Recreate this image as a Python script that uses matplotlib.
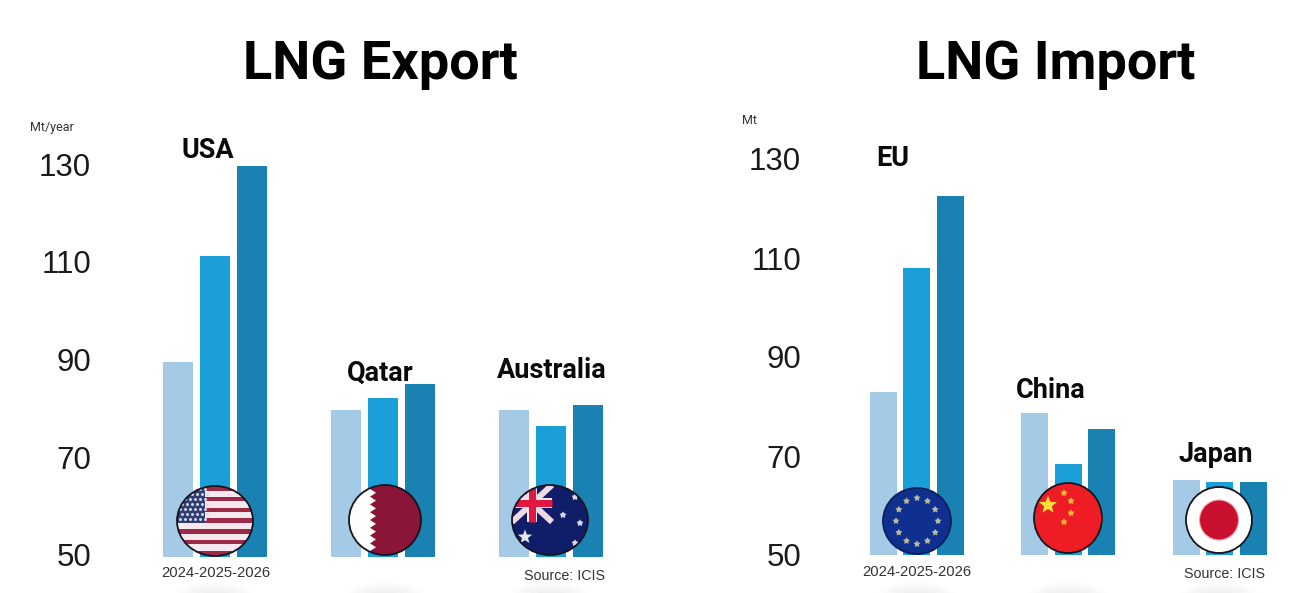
import numpy as np
import matplotlib
matplotlib.use('Agg')
import matplotlib.pyplot as plt
from matplotlib.patches import Ellipse, Rectangle, Polygon
from matplotlib.transforms import ScaledTranslation

W, H = 1290, 593

years = ['2024', '2025', '2026']
yticks = [50, 70, 90, 110, 130]

export_names = ['USA', 'Qatar', 'Australia']
export_2024 = [90, 80, 80]
export_2025 = [111.5, 82.5, 76.8]
export_2026 = [130, 85.4, 81]

import_names = ['EU', 'China', 'Japan']
import_2024 = [83, 78.7, 65.2]
import_2025 = [108, 68.4, 64.8]
import_2026 = [122.5, 75.4, 64.8]

colors = ['#A5CAE6', '#1B9FD9', '#1A82B3']
TITLE_FONT = 'Roboto'
BODY_FONT = 'Liberation Sans'

fig = plt.figure(figsize=(W / 100, H / 100), dpi=100, facecolor='white')


def make_axes(left, right, top, bottom):
    return fig.add_axes([left / W, 1 - bottom / H, (right - left) / W, (bottom - top) / H])


def draw_bars(ax, series, step, width, names, label_shift):
    x = np.arange(len(names))
    for i, vals in enumerate(series):
        ax.bar(x + (i - 1) * step, np.array(vals) - 50, width, bottom=50, color=colors[i], clip_on=False)
    ax.set_ylim(50, 130)
    ax.set_yticks(yticks)
    ax.tick_params(axis='y', length=0, pad=6.5, labelsize=22.5, labelcolor='#1a1a1a')
    ax.set_xticks([])
    # label_shift in px, the digits are not quite level with the bars in the reference
    up = ScaledTranslation(0, label_shift / 100, fig.dpi_scale_trans)
    for label in ax.get_yticklabels():
        label.set_fontfamily(BODY_FONT)
        label.set_transform(label.get_transform() + up)
    for s in ax.spines.values():
        s.set_visible(False)
    ax.patch.set_alpha(0)


# one group = 168 px on the left, 151.5 px on the right
ax1 = make_axes(100, 100 + 168 * 3, 166, 557)
ax1.set_xlim(-115 / 168, 3 - 115 / 168)
draw_bars(ax1, [export_2024, export_2025, export_2026], 37 / 168, 29.5 / 168, export_names, 2)

ax2 = make_axes(810, 810 + 151.5 * 3, 159, 555)
ax2.set_xlim(-106.5 / 151.5, 3 - 106.5 / 151.5)
draw_bars(ax2, [import_2024, import_2025, import_2026], 33.5 / 151.5, 27 / 151.5, import_names, 0)

# overlay in pixel coordinates for the text and the round flags
ov = fig.add_axes([0, 0, 1, 1], zorder=5)
ov.set_xlim(0, W)
ov.set_ylim(H, 0)
ov.axis('off')


def flag_base(cx, cy, rx, ry, color):
    e = Ellipse((cx, cy), 2 * rx, 2 * ry, fc=color, ec='none', zorder=6)
    ov.add_patch(e)
    return e


def outline(cx, cy, rx, ry, color='#14141e'):
    ov.add_patch(Ellipse((cx, cy), 2 * rx, 2 * ry, fc='none', ec=color, lw=1.3, zorder=9))


def star_pts(cx, cy, r, inner=0.42, n=5):
    a = -np.pi / 2 + np.arange(2 * n) * np.pi / n
    rad = np.where(np.arange(2 * n) % 2 == 0, r, r * inner)
    return np.column_stack([cx + rad * np.cos(a), cy + rad * np.sin(a)])


def clipped(patch, clip, z=7):
    patch.set_zorder(z)
    ov.add_patch(patch)
    patch.set_clip_path(clip)


def flag_usa(cx, cy, rx, ry):
    clip = flag_base(cx, cy, rx, ry, '#F6E8EE')
    top = cy - ry
    h = 2 * ry / 13
    for i in range(0, 13, 2):
        clipped(Rectangle((cx - rx, top + i * h), 2 * rx, h * 0.85, fc='#9C2A46', ec='none'), clip)
    clipped(Rectangle((cx - rx, top), 28, 37, fc='#2E3F72', ec='none'), clip)
    for r in range(7):
        for c in range(6):
            px = cx - rx + 3 + c * 5 + (r % 2) * 2
            py = top + 3 + r * 5
            s = ov.scatter([px], [py], s=4.5, c='#D8D8EA', marker='o', linewidths=0, zorder=8)
            s.set_clip_path(clip)
    outline(cx, cy, rx, ry)


def flag_qatar(cx, cy, rx, ry):
    clip = flag_base(cx, cy, rx, ry, 'white')
    n = 9
    ys = np.linspace(cy - ry, cy + ry, 2 * n + 1)
    xs = [cx - 9 + (6 if i % 2 else 0) * -1 for i in range(2 * n + 1)]
    pts = list(zip(xs, ys)) + [(cx + rx, cy + ry), (cx + rx, cy - ry)]
    clipped(Polygon(pts, closed=True, fc='#8A1538', ec='none'), clip)
    outline(cx, cy, rx, ry)


def flag_australia(cx, cy, rx, ry):
    clip = flag_base(cx, cy, rx, ry, '#101E6A')
    x0, x1, y0, y1 = cx - rx, cx + 2, cy - ry, cy + 2
    xm, ym = (x0 + x1) / 2, (y0 + y1) / 2 - 1
    for (a, b), c, lw in [(((x0, y0), (x1, y1)), '#F0D8E4', 6), (((x0, y1), (x1, y0)), '#F0D8E4', 6),
                          (((x0, ym), (x1, ym)), '#F4E6EC', 10), (((xm, y0), (xm, y1)), '#F4E6EC', 10),
                          (((x0, ym), (x1, ym)), '#E0173F', 7), (((xm, y0), (xm, y1)), '#E0173F', 7)]:
        line, = ov.plot([a[0], b[0]], [a[1], b[1]], color=c, lw=lw * 0.72, zorder=7, solid_capstyle='butt')
        line.set_clip_path(clip)
    clipped(Polygon(star_pts(cx - 25, cy + 17, 7.5), closed=True, fc='#E8E4F0', ec='none'), clip, 8)
    for dx, dy in [(13, -5), (25, -23), (30, 3), (25, 23)]:
        clipped(Polygon(star_pts(cx + dx, cy + dy, 3.6, 0.6), closed=True, fc='#D8D8E8', ec='none'), clip, 8)
    outline(cx, cy, rx, ry)


def flag_eu(cx, cy, rx, ry):
    flag_base(cx, cy, rx, ry, '#10308F')
    for a in np.arange(12) * np.pi / 6:
        ov.add_patch(Polygon(star_pts(cx + 21 * np.cos(a), cy + 23 * np.sin(a), 3.6, 0.55), closed=True,
                             fc='#B9BBA0', ec='none', zorder=8))
    outline(cx, cy, rx, ry, '#0B1F5E')


def flag_china(cx, cy, rx, ry):
    flag_base(cx, cy, rx, ry, '#EE1C25')
    ov.add_patch(Polygon(star_pts(cx - 20, cy - 13, 9.5), closed=True, fc='#F7E03A', ec='none', zorder=8))
    for dx, dy in [(-4, -25), (3, -17), (3, -5), (-4, 4)]:
        ov.add_patch(Polygon(star_pts(cx + dx, cy + dy, 3.6, 0.6), closed=True, fc='#F2B43A', ec='none', zorder=8))
    outline(cx, cy, rx, ry)


def flag_japan(cx, cy, rx, ry):
    flag_base(cx, cy, rx, ry, 'white')
    ov.add_patch(Ellipse((cx, cy), 39, 40, fc='#C9102E', ec='#F0A0B0', lw=0.8, zorder=8))
    outline(cx, cy, rx, ry)


flag_usa(215, 521, 38, 35)
flag_qatar(385, 520, 36, 35)
flag_australia(550, 520, 38, 35)
flag_eu(917, 521, 34, 33)
flag_china(1068, 518, 34, 35)
flag_japan(1219, 520, 33, 33)

# faint blurred shadows under the flags, cut by the image edge
for cx in [215, 385, 550, 917, 1068, 1219]:
    for k in range(7):
        ov.add_patch(Ellipse((cx, 600), 84 - k * 10, 36 - k * 4.5, fc='#777777', alpha=0.018, ec='none', zorder=2))

ov.text(380, 64, 'LNG Export', fontsize=39, fontweight='bold', family=TITLE_FONT, ha='center', va='center', color='black', zorder=10)
ov.text(1056, 64, 'LNG Import', fontsize=39, fontweight='bold', family=TITLE_FONT, ha='center', va='center', color='black', zorder=10)

for name, x, y in zip(export_names + import_names,
                      [208, 380, 552, 893, 1051, 1216],
                      [150, 373, 371, 158, 391, 455]):
    ov.text(x, y, name, fontsize=19.5, fontweight='bold', family=TITLE_FONT, ha='center', va='center', color='#0a0a0a', zorder=10)

ov.text(30, 127, 'Mt/year', fontsize=9, family=TITLE_FONT, ha='left', va='center', color='#333333', zorder=10)
ov.text(742, 120, 'Mt', fontsize=9, family=TITLE_FONT, ha='left', va='center', color='#333333', zorder=10)

span = '-'.join(years)
ov.text(216, 573, span, fontsize=10.7, family=BODY_FONT, ha='center', va='center', color='#333333', zorder=10)
ov.text(917, 572, span, fontsize=10.7, family=BODY_FONT, ha='center', va='center', color='#333333', zorder=10)
ov.text(564, 576, 'Source: ICIS', fontsize=10.3, family=BODY_FONT, ha='center', va='center', color='#333333', zorder=10)
ov.text(1224, 574, 'Source: ICIS', fontsize=10.3, family=BODY_FONT, ha='center', va='center', color='#333333', zorder=10)

fig.savefig('out.png', dpi=100)
